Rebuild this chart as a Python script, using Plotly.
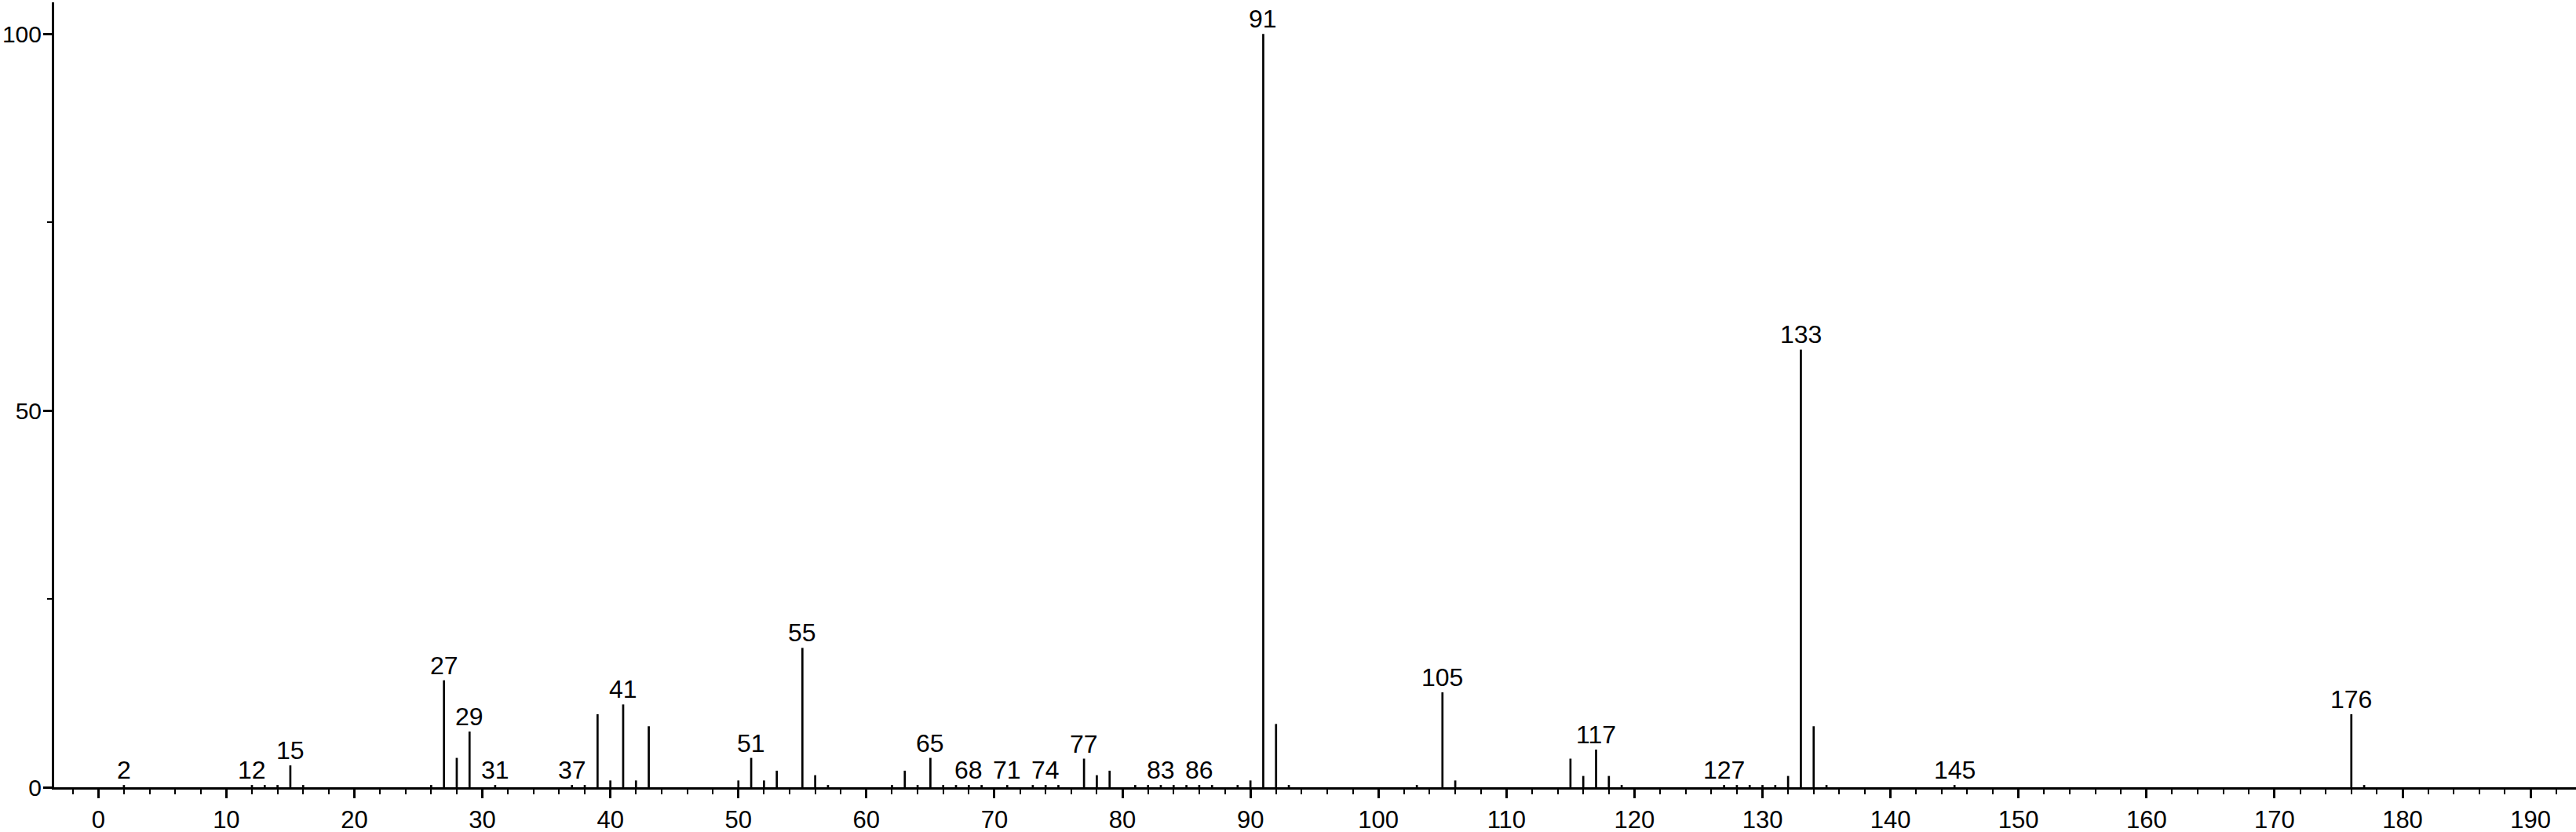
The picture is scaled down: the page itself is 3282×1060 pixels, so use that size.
import plotly.graph_objects as go

# m/z values and relative intensities
mz = [2, 12, 13, 14, 15, 16, 26, 27, 28, 29, 31, 37, 38, 39, 40, 41, 42, 43,
      50, 51, 52, 53, 55, 56, 57, 62, 63, 64, 65, 66, 67, 68, 69, 71, 73, 74,
      75, 77, 78, 79, 81, 82, 83, 84, 85, 86, 87, 89, 90, 91, 92, 93, 103,
      105, 106, 115, 116, 117, 118, 119, 127, 128, 129, 130, 131, 132, 133,
      134, 135, 145, 176, 177]
intensity = [0.3, 0.3, 0.3, 0.3, 2.9, 0.3, 0.3, 14.2, 3.9, 7.4, 0.3, 0.3, 0.3,
             9.7, 0.9, 11.0, 0.9, 8.1, 0.9, 3.9, 0.9, 2.2, 18.5, 1.6, 0.3, 0.3,
             2.2, 0.3, 3.9, 0.3, 0.3, 0.3, 0.3, 0.3, 0.3, 0.3, 0.3, 3.8, 1.6,
             2.2, 0.3, 0.3, 0.3, 0.3, 0.3, 0.3, 0.3, 0.3, 0.9, 100.0, 8.4, 0.3,
             0.3, 12.6, 0.9, 3.8, 1.5, 5.0, 1.5, 0.3, 0.3, 0.3, 0.3, 0.3, 0.3,
             1.5, 58.1, 8.1, 0.3, 0.3, 9.7, 0.3]

labeled_mz = [2, 12, 15, 27, 29, 31, 37, 41, 51, 55, 65, 68, 71, 74, 77, 83,
              86, 91, 105, 117, 127, 133, 145, 176]

x_ticks = list(range(0, 200, 10))
y_ticks = [0, 50, 100]

# stems as one line trace with breaks
xs, ys = [], []
for m, v in zip(mz, intensity):
    xs += [m, m, None]
    ys += [0, v, None]

fig = go.Figure()
fig.add_trace(go.Scatter(x=xs, y=ys, mode="lines",
                         line=dict(color="black", width=2.7),
                         hoverinfo="skip", showlegend=False, cliponaxis=False))

lookup = dict(zip(mz, intensity))
for m in labeled_mz:
    fig.add_annotation(x=m, y=lookup[m], text=str(m), showarrow=False,
                       xanchor="center", yanchor="bottom", yshift=-1,
                       font=dict(size=32, color="black"))

family = "Liberation Sans, Arial, sans-serif"
fig.update_layout(
    width=3282, height=1060,
    margin=dict(l=69, r=0, t=3, b=57, autoexpand=False),
    plot_bgcolor="white", paper_bgcolor="white",
    font=dict(family=family, color="black", size=31),
    showlegend=False,
)
fig.update_xaxes(
    range=[-3.45, 193.55], tickvals=x_ticks, ticktext=[str(t) for t in x_ticks],
    showgrid=False, zeroline=False, automargin=False,
    showline=True, linecolor="black", linewidth=3,
    ticks="outside", ticklen=11, tickwidth=2.7, tickcolor="black",
    tickfont=dict(size=31), ticklabelstandoff=1,
    minor=dict(dtick=2, tick0=0, ticks="outside", ticklen=6, tickwidth=2,
               tickcolor="black", showgrid=False),
)
fig.update_yaxes(
    range=[0, 104.2], tickvals=y_ticks, ticktext=[str(t) for t in y_ticks],
    showgrid=False, zeroline=False, automargin=False,
    showline=True, linecolor="black", linewidth=3,
    ticks="outside", ticklen=11, tickwidth=2.7, tickcolor="black",
    tickfont=dict(size=30), ticklabelstandoff=-4,
    minor=dict(dtick=25, tick0=0, ticks="outside", ticklen=6, tickwidth=2,
               tickcolor="black", showgrid=False),
)

fig.write_html("out.html", config={"displayModeBar": False},
               post_script="document.body.style.margin='0';"
                           "document.body.style.padding='0';")
